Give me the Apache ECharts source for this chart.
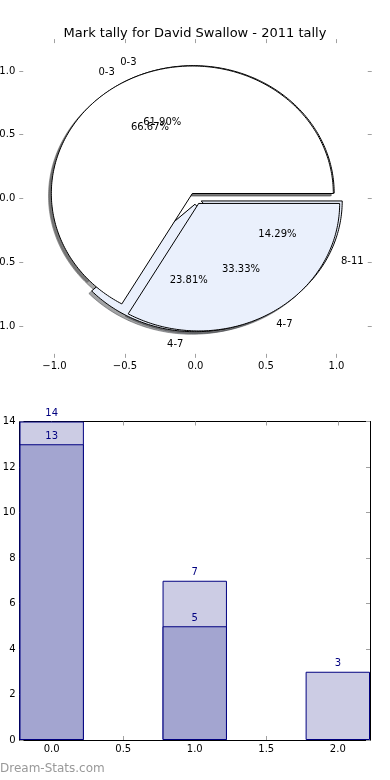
<!DOCTYPE html>
<html><head><meta charset="utf-8">
<script src="https://cdn.jsdelivr.net/npm/echarts@6/dist/echarts.min.js"></script>
<style>html,body{margin:0;padding:0;background:#fff}#c{width:390px;height:780px}</style>
</head><body><div id="c"></div>
<script>
const titleText = 'Mark tally for David Swallow - 2011 tally';
const sliceLabels = ['0-3', '4-7', '8-11'];
const pieBack = [13, 5, 3];   // drawn first (underneath)
const pieFront = [14, 7];     // drawn on top
const barCats = [0, 1, 2];
const barLight = [14, 7, 3];
const barDark = [13, 5, null];
const pieTicks = [-1.0, -0.5, 0.0, 0.5, 1.0];
const barXTicks = [0.0, 0.5, 1.0, 1.5, 2.0];
const barYTicks = [0, 2, 4, 6, 8, 10, 12, 14];
const watermark = 'Dream-Stats.com';

const EXPLODE = 0.045, SHADOW = 0.02;
const sliceColors = ['#ffffff', '#eaf0fc', '#eaf0fc'];
const FONT = '"DejaVu Sans", sans-serif';

function wedges(vals, pieIdx) {
  const total = vals.reduce((a, b) => a + b, 0);
  let a = 0; const out = [];
  vals.forEach((v, i) => {
    const a0 = a, a1 = a + 360 * v / total; a = a1;
    const mid = (a0 + a1) / 2 * Math.PI / 180;
    out.push({pie: pieIdx, idx: i, a0, a1, mid,
      ex: EXPLODE * Math.cos(mid), ey: EXPLODE * Math.sin(mid), pct: 100 * v / total});
  });
  return out;
}
const W = [...wedges(pieBack, 0), ...wedges(pieFront, 1)];

function wedgePoints(api, w, dx, dy) {
  const cx = w.ex + dx, cy = w.ey + dy;
  const pts = [api.coord([cx, cy])];
  const n = Math.max(4, Math.ceil(w.a1 - w.a0));
  for (let k = 0; k <= n; k++) {
    const t = (w.a0 + (w.a1 - w.a0) * k / n) * Math.PI / 180;
    pts.push(api.coord([cx + Math.cos(t), cy + Math.sin(t)]));
  }
  return pts;
}
function shadowColor(hex) {
  const r = parseInt(hex.slice(1,3),16), g = parseInt(hex.slice(3,5),16), b = parseInt(hex.slice(5,7),16);
  return 'rgba(' + Math.round(0.3*r) + ',' + Math.round(0.3*g) + ',' + Math.round(0.3*b) + ',0.5)';
}

const chart = echarts.init(document.getElementById('c'), null, {renderer: 'canvas'});

const G0 = {left: 19.25, top: 39.1, width: 352.5, height: 318.75};
const G1 = {left: 19.5, top: 421.5, width: 350.5, height: 318.5};
const barXMin = -0.225, barXMax = 2.225;
const barW = 0.45 * G1.width / (barXMax - barXMin);

const tickGray = '#a0a0a0';
const fmt = v => (v < 0 ? '\u2212' : '') + Math.abs(v).toFixed(1);
function axisCommon(lineShow, ticks, labelShow, formatter) {
  return {
    axisLine: {show: lineShow, onZero: false, lineStyle: {color: '#000', width: 1}},
    axisTick: {show: true, inside: true, length: 4, customValues: ticks, lineStyle: {color: tickGray, width: 1}},
    axisLabel: {show: labelShow, customValues: ticks, formatter: formatter, margin: 4,
      color: '#000', fontSize: 10, fontFamily: FONT, hideOverlap: false},
    splitLine: {show: false}
  };
}

const option = {
  animation: false,
  backgroundColor: '#fff',
  title: {text: titleText, left: 'center', top: 22,
    textStyle: {fontSize: 13, fontWeight: 'normal', color: '#000', fontFamily: FONT}},
  grid: [
    Object.assign({containLabel: false, outerBoundsMode: 'none'}, G0),
    Object.assign({containLabel: false, outerBoundsMode: 'none'}, G1)
  ],
  xAxis: [
    Object.assign({gridIndex: 0, type: 'value', min: -1.25, max: 1.25, position: 'bottom'}, axisCommon(false, pieTicks, true, fmt)),
    Object.assign({gridIndex: 0, type: 'value', min: -1.25, max: 1.25, position: 'top'}, axisCommon(false, pieTicks, false, fmt)),
    Object.assign({gridIndex: 1, type: 'value', min: barXMin, max: barXMax, position: 'bottom'}, axisCommon(true, barXTicks, true, fmt)),
    Object.assign({gridIndex: 1, type: 'value', min: barXMin, max: barXMax, position: 'top'}, axisCommon(true, barXTicks, false, fmt))
  ],
  yAxis: [
    Object.assign({gridIndex: 0, type: 'value', min: -1.25, max: 1.25, position: 'left'}, axisCommon(false, pieTicks, true, fmt)),
    Object.assign({gridIndex: 0, type: 'value', min: -1.25, max: 1.25, position: 'right'}, axisCommon(false, pieTicks, false, fmt)),
    Object.assign({gridIndex: 1, type: 'value', min: 0, max: 14, interval: 2, position: 'left'}, axisCommon(true, barYTicks, true, v => String(v))),
    Object.assign({gridIndex: 1, type: 'value', min: 0, max: 14, interval: 2, position: 'right'}, axisCommon(true, barYTicks, false, v => String(v)))
  ],
  series: [
    {
      type: 'custom', name: 'shadows', xAxisIndex: 0, yAxisIndex: 0, z: 1, clip: false, silent: true,
      data: W.map(w => [w.ex, w.ey]),
      renderItem: (params, api) => {
        const w = W[params.dataIndex];
        const c = shadowColor(sliceColors[w.idx]);
        return {type: 'polygon', shape: {points: wedgePoints(api, w, -SHADOW, -SHADOW)},
          style: {fill: c, stroke: c, lineWidth: 1}};
      }
    },
    {
      type: 'custom', name: 'wedges', xAxisIndex: 0, yAxisIndex: 0, z: 2, clip: false, silent: true,
      data: W.map(w => [w.ex, w.ey]),
      renderItem: (params, api) => {
        const w = W[params.dataIndex];
        return {type: 'polygon', shape: {points: wedgePoints(api, w, 0, 0)},
          style: {fill: sliceColors[w.idx], stroke: '#000', lineWidth: 1}};
      }
    },
    {
      type: 'custom', name: 'pieText', xAxisIndex: 0, yAxisIndex: 0, z: 3, clip: false, silent: true,
      data: W.map(w => [w.ex, w.ey]),
      renderItem: (params, api) => {
        const w = W[params.dataIndex];
        const lx = w.ex + 1.1 * Math.cos(w.mid), ly = w.ey + 1.1 * Math.sin(w.mid);
        const px = w.ex + 0.6 * Math.cos(w.mid), py = w.ey + 0.6 * Math.sin(w.mid);
        const lp = api.coord([lx, ly]), pp = api.coord([px, py]);
        return {type: 'group', children: [
          {type: 'text', style: {x: lp[0], y: lp[1], text: sliceLabels[w.idx], align: lx > 0 ? 'left' : 'right',
            verticalAlign: 'middle', fill: '#000', font: '10px ' + FONT}},
          {type: 'text', style: {x: pp[0], y: pp[1], text: w.pct.toFixed(2) + '%', align: 'center',
            verticalAlign: 'middle', fill: '#000', font: '10px ' + FONT}}
        ]};
      }
    },
    {
      type: 'bar', name: 'light', xAxisIndex: 2, yAxisIndex: 2, barWidth: barW, barGap: '-100%', z: 2,
      data: barCats.map((c, i) => [c, barLight[i]]),
      itemStyle: {color: '#cccce4', borderColor: '#000080', borderWidth: 1},
      label: {show: true, position: 'top', distance: 3, color: '#000080', fontSize: 10, fontFamily: FONT}
    },
    {
      type: 'bar', name: 'dark', xAxisIndex: 2, yAxisIndex: 2, barWidth: barW, barGap: '-100%', z: 3,
      data: barCats.map((c, i) => [c, barDark[i]]).filter(d => d[1] !== null),
      itemStyle: {color: '#a3a5d0', borderColor: '#000080', borderWidth: 1},
      label: {show: true, position: 'top', distance: 3, color: '#000080', fontSize: 10, fontFamily: FONT}
    }
  ],
  graphic: [
    {type: 'text', left: 0, top: 763, style: {text: watermark, fill: '#999999', font: '12px ' + FONT}}
  ]
};
chart.setOption(option);
</script>
</body></html>
